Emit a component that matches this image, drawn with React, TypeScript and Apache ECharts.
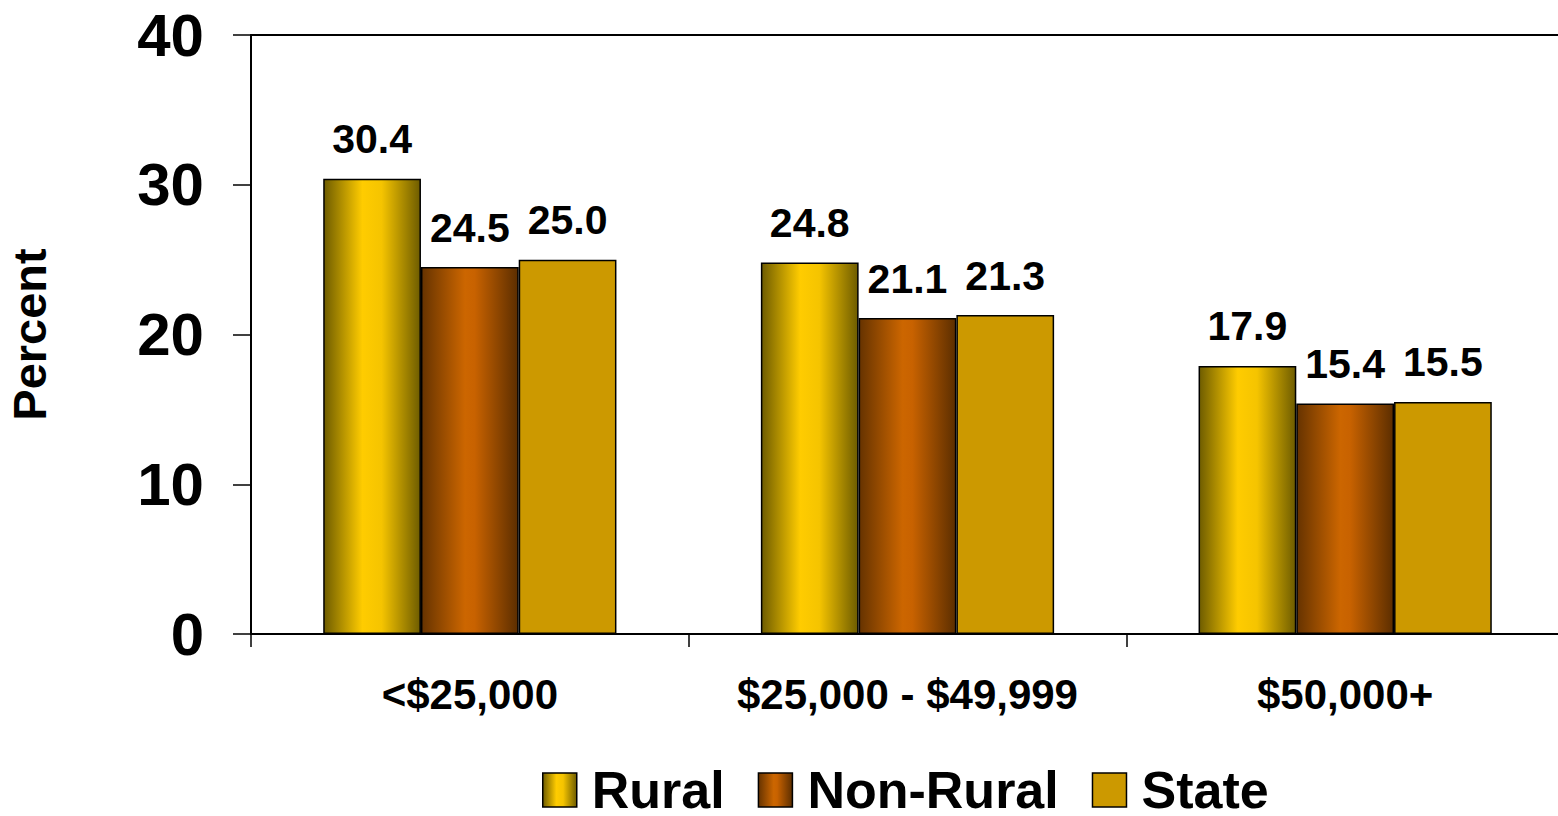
import React, { useEffect, useRef } from "react";
import * as echarts from "echarts";

const categories = ["<$25,000", "$25,000 - $49,999", "$50,000+"];
const rural = [30.4, 24.8, 17.9];
const nonRural = [24.5, 21.1, 15.4];
const state = [25.0, 21.3, 15.5];
const seriesNames = ["Rural", "Non-Rural", "State"];

const FONT = "Liberation Sans, Arial, sans-serif";

const ruralFill = new echarts.graphic.LinearGradient(0, 0, 1, 0, [
  { offset: 0, color: "#6e5c00" },
  { offset: 0.4, color: "#ffcc00" },
  { offset: 0.6, color: "#f5c400" },
  { offset: 1, color: "#6e5c00" },
]);
const nonRuralFill = new echarts.graphic.LinearGradient(0, 0, 1, 0, [
  { offset: 0, color: "#663300" },
  { offset: 0.45, color: "#cc6600" },
  { offset: 0.55, color: "#c86200" },
  { offset: 1, color: "#5c2e00" },
]);
const stateFill = "#cc9900";

export default function App() {
  const ref = useRef<HTMLDivElement>(null);
  useEffect(() => {
    const chart = echarts.init(ref.current!, null, { renderer: "svg" });
    const label = {
      show: true,
      position: "top",
      distance: 19,
      fontSize: 41,
      fontWeight: "bold",
      fontFamily: FONT,
      color: "#000",
      formatter: (p: any) => Number(p.value).toFixed(1),
    };
    const mk = (name: string, data: number[], fill: any) => ({
      name,
      type: "bar",
      data,
      barGap: "0%",
      barCategoryGap: "33%",
      itemStyle: { color: fill, borderColor: "#000", borderWidth: 1.5 },
      label,
    });
    chart.setOption({
      animation: false,
      backgroundColor: "#fff",
      grid: {
        left: 251,
        top: 35,
        width: 1313,
        height: 599,
        containLabel: false,
        outerBoundsMode: "none",
      },
      legend: {
        top: 764,
        left: 542,
        padding: 0,
        icon: "rect",
        itemWidth: 34,
        itemHeight: 34,
        itemGap: 33,
        textStyle: {
          fontSize: 52,
          lineHeight: 46,
          fontWeight: "bold",
          fontFamily: FONT,
          color: "#000",
          padding: [0, 0, 0, 10],
        },
        data: seriesNames.map((n) => ({
          name: n,
          itemStyle: { borderColor: "#000", borderWidth: 1.5 },
        })),
      },
      xAxis: [
        {
          type: "category",
          data: categories,
          axisLine: { lineStyle: { color: "#000", width: 2 } },
          axisTick: { show: true, length: 13, lineStyle: { color: "#000", width: 1.5 } },
          axisLabel: {
            interval: 0,
            fontSize: 42,
            fontWeight: "bold",
            fontFamily: FONT,
            color: "#000",
            margin: 39,
          },
        },
        {
          type: "category",
          position: "top",
          data: categories,
          axisLine: { show: true, lineStyle: { color: "#000", width: 2 } },
          axisTick: { show: false },
          axisLabel: { show: false },
        },
      ],
      yAxis: {
        type: "value",
        min: 0,
        max: 40,
        interval: 10,
        name: "Percent",
        nameLocation: "middle",
        nameGap: 198,
        nameRotate: 90,
        nameTextStyle: { fontSize: 47, fontWeight: "bold", fontFamily: FONT, color: "#000" },
        axisLine: { show: true, lineStyle: { color: "#000", width: 2 } },
        axisTick: { show: true, length: 18, lineStyle: { color: "#000", width: 1.5 } },
        axisLabel: {
          fontSize: 60,
          fontWeight: "bold",
          fontFamily: FONT,
          color: "#000",
          margin: 47,
          padding: [0, 0, 6, 0],
        },
        splitLine: { show: false },
      },
      series: [
        mk(seriesNames[0], rural, ruralFill),
        mk(seriesNames[1], nonRural, nonRuralFill),
        mk(seriesNames[2], state, stateFill),
      ],
    });
    return () => chart.dispose();
  }, []);
  return (
    <div
      ref={ref}
      style={{ position: "absolute", left: 0, top: 0, width: 1558, height: 816, background: "#fff" }}
    />
  );
}
